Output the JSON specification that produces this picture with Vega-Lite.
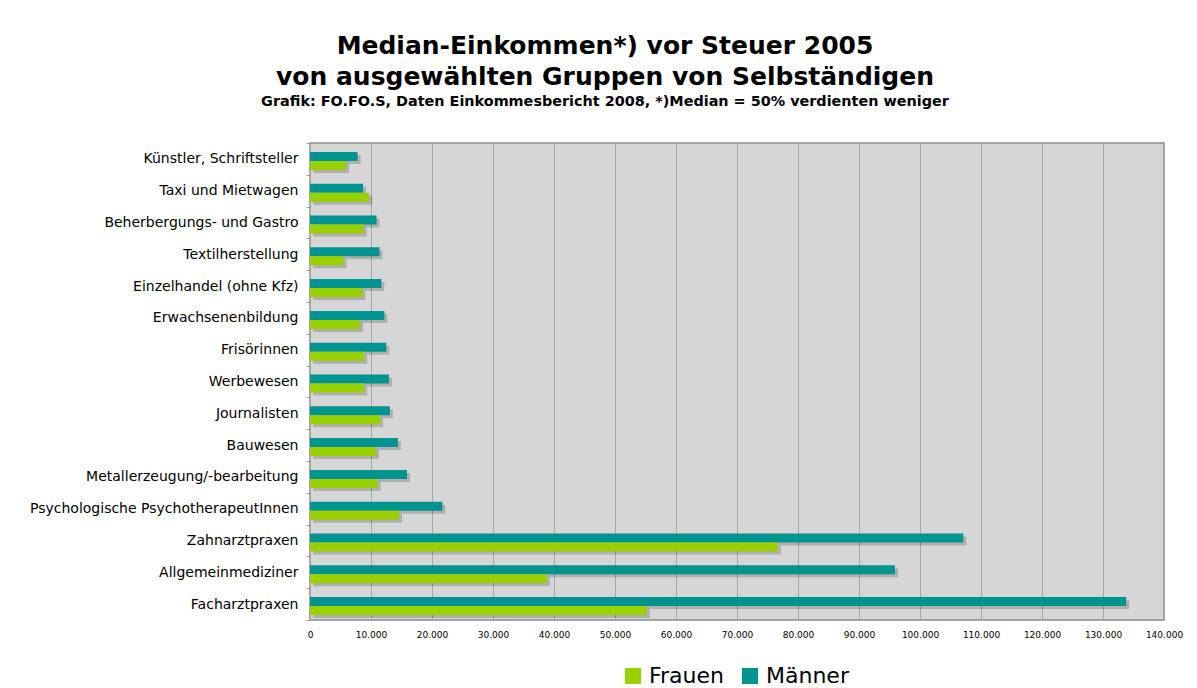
{
  "$schema": "https://vega.github.io/schema/vega-lite/v6.json",
  "autosize": {"type": "none"},
  "width": 854,
  "height": 477,
  "padding": {"left": 310, "top": 143, "right": 33, "bottom": 68},
  "background": "white",
  "title": {
    "text": ["Median-Einkommen*) vor Steuer 2005", "von ausgewählten Gruppen von Selbständigen"],
    "subtitle": "Grafik: FO.FO.S, Daten Einkommesbericht 2008, *)Median = 50% verdienten weniger",
    "font": "DejaVu Sans",
    "fontSize": 25,
    "fontWeight": "bold",
    "lineHeight": 31,
    "color": "black",
    "subtitleFont": "DejaVu Sans",
    "subtitleFontSize": 14.4,
    "subtitleFontWeight": "bold",
    "subtitleColor": "black",
    "subtitlePadding": 5,
    "anchor": "middle",
    "frame": "group",
    "dx": -132,
    "offset": 28
  },
  "data": {
    "values": [
      {"Gruppe": "Künstler, Schriftsteller", "Geschlecht": "Männer", "Einkommen": 7800},
      {"Gruppe": "Künstler, Schriftsteller", "Geschlecht": "Frauen", "Einkommen": 5900},
      {"Gruppe": "Taxi und Mietwagen", "Geschlecht": "Männer", "Einkommen": 8700},
      {"Gruppe": "Taxi und Mietwagen", "Geschlecht": "Frauen", "Einkommen": 9700},
      {"Gruppe": "Beherbergungs- und Gastro", "Geschlecht": "Männer", "Einkommen": 10900},
      {"Gruppe": "Beherbergungs- und Gastro", "Geschlecht": "Frauen", "Einkommen": 8800},
      {"Gruppe": "Textilherstellung", "Geschlecht": "Männer", "Einkommen": 11400},
      {"Gruppe": "Textilherstellung", "Geschlecht": "Frauen", "Einkommen": 5500},
      {"Gruppe": "Einzelhandel (ohne Kfz)", "Geschlecht": "Männer", "Einkommen": 11700},
      {"Gruppe": "Einzelhandel (ohne Kfz)", "Geschlecht": "Frauen", "Einkommen": 8600},
      {"Gruppe": "Erwachsenenbildung ", "Geschlecht": "Männer", "Einkommen": 12200},
      {"Gruppe": "Erwachsenenbildung ", "Geschlecht": "Frauen", "Einkommen": 8200},
      {"Gruppe": "Frisörinnen", "Geschlecht": "Männer", "Einkommen": 12500},
      {"Gruppe": "Frisörinnen", "Geschlecht": "Frauen", "Einkommen": 8900},
      {"Gruppe": "Werbewesen", "Geschlecht": "Männer", "Einkommen": 12950},
      {"Gruppe": "Werbewesen", "Geschlecht": "Frauen", "Einkommen": 8900},
      {"Gruppe": "Journalisten", "Geschlecht": "Männer", "Einkommen": 13100},
      {"Gruppe": "Journalisten", "Geschlecht": "Frauen", "Einkommen": 11500},
      {"Gruppe": "Bauwesen", "Geschlecht": "Männer", "Einkommen": 14400},
      {"Gruppe": "Bauwesen", "Geschlecht": "Frauen", "Einkommen": 10800},
      {"Gruppe": "Metallerzeugung/-bearbeitung", "Geschlecht": "Männer", "Einkommen": 15900},
      {"Gruppe": "Metallerzeugung/-bearbeitung", "Geschlecht": "Frauen", "Einkommen": 11100},
      {"Gruppe": "Psychologische PsychotherapeutInnen", "Geschlecht": "Männer", "Einkommen": 21700},
      {"Gruppe": "Psychologische PsychotherapeutInnen", "Geschlecht": "Frauen", "Einkommen": 14600},
      {"Gruppe": "Zahnarztpraxen", "Geschlecht": "Männer", "Einkommen": 107100},
      {"Gruppe": "Zahnarztpraxen", "Geschlecht": "Frauen", "Einkommen": 76700},
      {"Gruppe": "Allgemeinmediziner", "Geschlecht": "Männer", "Einkommen": 95900},
      {"Gruppe": "Allgemeinmediziner", "Geschlecht": "Frauen", "Einkommen": 38800},
      {"Gruppe": "Facharztpraxen", "Geschlecht": "Männer", "Einkommen": 133800},
      {"Gruppe": "Facharztpraxen", "Geschlecht": "Frauen", "Einkommen": 55200}
    ]
  },
  "encoding": {
    "y": {
      "field": "Gruppe",
      "type": "nominal",
      "sort": null,
      "scale": {"paddingInner": 0, "paddingOuter": 0},
      "axis": {
        "title": null,
        "tickBand": "extent",
        "tickSize": 4,
        "tickColor": "#999999",
        "domain": false,
        "labelPadding": 8,
        "labelLimit": 400,
        "labelFont": "DejaVu Sans",
        "labelFontSize": 14,
        "labelColor": "black"
      }
    },
    "x": {
      "field": "Einkommen",
      "type": "quantitative",
      "scale": {"domain": [0, 140000], "nice": false},
      "axis": {
        "title": null,
        "values": [0, 10000, 20000, 30000, 40000, 50000, 60000, 70000, 80000, 90000, 100000, 110000, 120000, 130000, 140000],
        "labelExpr": "replace(format(datum.value, ','), /,/g, '.')",
        "ticks": false,
        "domain": false,
        "grid": true,
        "gridColor": "#A8A8A8",
        "gridWidth": 1,
        "labelPadding": 10,
        "labelFont": "DejaVu Sans",
        "labelFontSize": 9,
        "labelColor": "black",
        "labelOverlap": false,
        "labelBound": false,
        "labelFlush": false
      }
    }
  },
  "layer": [
    {
      "transform": [{"filter": "datum.Geschlecht === 'Frauen'"}],
      "mark": {"type": "bar", "height": 9, "yOffset": 9.5, "xOffset": 3, "color": "#000000", "opacity": 0.18}
    },
    {
      "transform": [{"filter": "datum.Geschlecht === 'Männer'"}],
      "mark": {"type": "bar", "height": 9, "yOffset": 0.5, "xOffset": 3, "color": "#000000", "opacity": 0.18}
    },
    {
      "transform": [{"filter": "datum.Geschlecht === 'Männer'"}],
      "mark": {"type": "bar", "height": 9, "yOffset": -2.5},
      "encoding": {
        "color": {
          "field": "Geschlecht",
          "type": "nominal",
          "scale": {"domain": ["Frauen", "Männer"], "range": ["#99D100", "#009490"]},
          "legend": {
            "title": null,
            "orient": "none",
            "direction": "horizontal",
            "legendX": 312,
            "legendY": 522,
            "symbolType": "square",
            "symbolSize": 260,
            "symbolStrokeWidth": 0,
            "symbolOpacity": 1,
            "labelFont": "DejaVu Sans",
            "labelFontSize": 22,
            "labelColor": "black",
            "columnPadding": 14,
            "labelOffset": 5
          }
        }
      }
    },
    {
      "transform": [{"filter": "datum.Geschlecht === 'Frauen'"}],
      "mark": {"type": "bar", "height": 9, "yOffset": 6.5},
      "encoding": {
        "color": {"field": "Geschlecht", "type": "nominal"}
      }
    }
  ],
  "config": {
    "view": {"fill": "#D6D6D6", "stroke": "#8C8C8C", "strokeWidth": 1.5},
    "axis": {"gridOpacity": 1}
  }
}
